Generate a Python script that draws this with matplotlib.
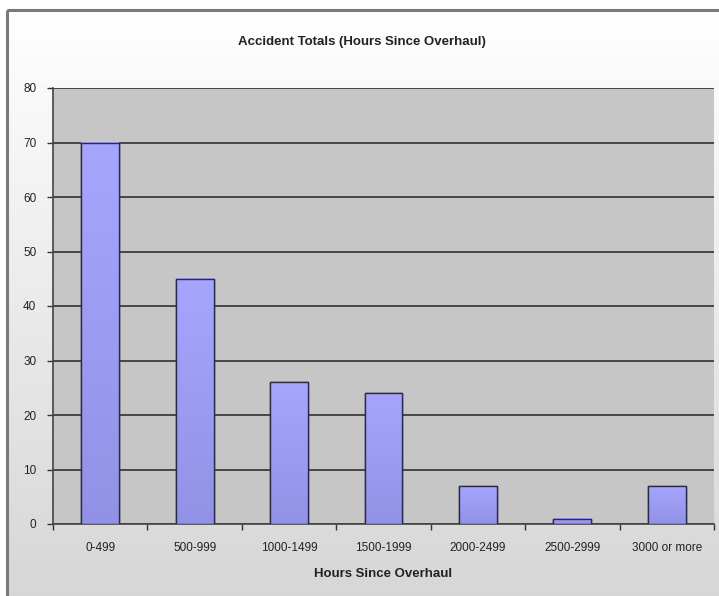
import numpy as np
import matplotlib
matplotlib.use("Agg")
import matplotlib.pyplot as plt
from matplotlib.patches import Rectangle

categories = ["0-499", "500-999", "1000-1499", "1500-1999", "2000-2499", "2500-2999", "3000 or more"]
accidents = [70, 45, 26, 24, 7, 1, 7]
y_ticks = [0, 10, 20, 30, 40, 50, 60, 70, 80]

plt.rcParams["font.family"] = ["Liberation Sans", "DejaVu Sans"]

fig = plt.figure(figsize=(7.19, 5.96), dpi=100)
W, H = 719, 596

# chart-area background: white fading to light gray, with a border
bg = fig.add_axes([0, 0, 1, 1], zorder=0)
bg.set_xlim(0, W)
bg.set_ylim(H, 0)
bg.axis("off")
grad = np.linspace(0, 1, 256)[:, None]
cols = np.array([1.0, 1.0, 1.0])[None, None, :] * (1 - grad[..., None]) + \
       np.array([0.84, 0.84, 0.84])[None, None, :] * grad[..., None]
bg.imshow(cols, extent=[7, W + 5, H + 5, 10], aspect="auto", zorder=0)
bg.add_patch(Rectangle((7, 10), W, H, fill=False, edgecolor="#7a7a7a", lw=2.2, zorder=1))

ax = fig.add_axes([53 / W, 1 - 524 / H, 661 / W, 436 / H], zorder=1)
ax.set_facecolor("#c6c6c6")
x = np.arange(len(categories))

bars = ax.bar(x, accidents, width=0.4, color="#9c9cf2", edgecolor="#2a2a4a", linewidth=1.0, zorder=3)
# soft vertical gradient inside each bar
bar_grad = np.linspace(0, 1, 128)[:, None]
top_c = np.array([0.65, 0.65, 1.0])
bot_c = np.array([0.57, 0.57, 0.90])
for b in bars:
    x0, w, h = b.get_x(), b.get_width(), b.get_height()
    img = top_c[None, None, :] * (1 - bar_grad[..., None]) + bot_c[None, None, :] * bar_grad[..., None]
    ax.imshow(img, extent=[x0, x0 + w, 0, h], aspect="auto", zorder=3.5)
    ax.add_patch(Rectangle((x0, 0), w, h, fill=False, edgecolor="#2a2a4a", lw=1.0, zorder=4))
ax.set_xlim(-0.5, len(categories) - 0.5)
ax.set_ylim(0, 80)

ax.set_yticks(y_ticks)
ax.yaxis.grid(True, color="#3c3c3c", linewidth=1.3, zorder=1)
ax.set_axisbelow(True)
ax.set_xticks(x)
ax.set_xticklabels(categories, fontsize=8.5, color="#222222")
ax.set_xticks(np.arange(-0.5, len(categories)), minor=True)
ax.tick_params(axis="x", which="major", length=0, pad=13)
ax.tick_params(axis="x", which="minor", length=4, width=1, color="#333333", direction="out")
ax.tick_params(axis="y", labelsize=8.5, length=4, width=1, color="#333333", labelcolor="#222222", pad=8)

for s in ["top", "right"]:
    ax.spines[s].set_visible(False)
ax.spines["left"].set_color("#444444")
ax.spines["bottom"].set_color("#444444")
ax.spines["left"].set_linewidth(1.2)
ax.spines["bottom"].set_linewidth(1.2)

ax.set_xlabel("Hours Since Overhaul", fontsize=9.5, fontweight="bold", color="#222222", labelpad=10)
fig.text(362 / W, 1 - 42 / H, "Accident Totals (Hours Since Overhaul)", ha="center", va="center",
         fontsize=9.5, fontweight="bold", color="#222222")

fig.savefig("out.png", dpi=100)
